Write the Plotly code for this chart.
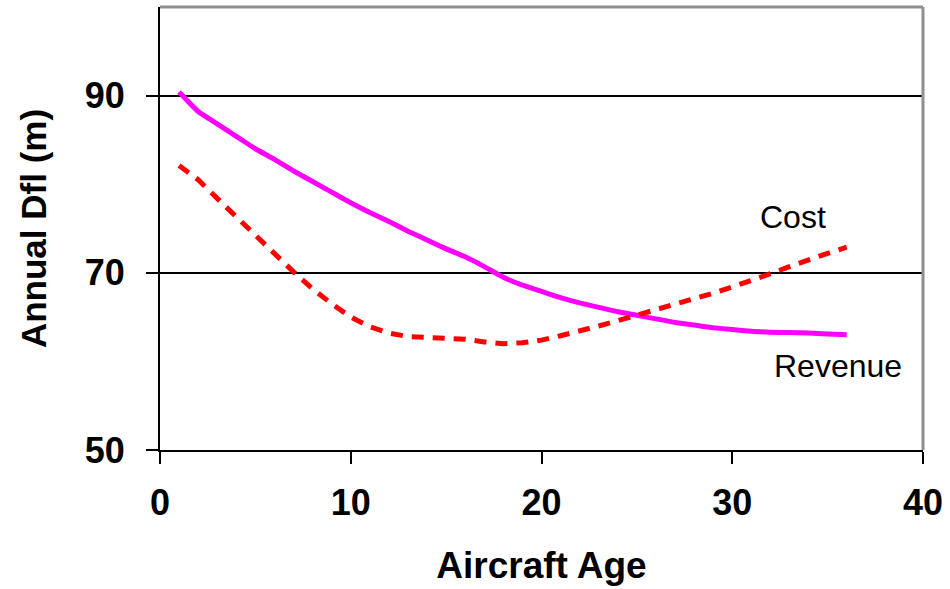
import plotly.graph_objects as go

age = list(range(1, 37))
revenue = [90.4, 88.2, 86.8, 85.4, 84.0, 82.8, 81.5, 80.3, 79.1, 77.9,
           76.8, 75.8, 74.7, 73.7, 72.7, 71.8, 70.7, 69.5, 68.6, 67.9,
           67.2, 66.6, 66.1, 65.6, 65.2, 64.8, 64.4, 64.1, 63.8, 63.6,
           63.4, 63.3, 63.25, 63.2, 63.1, 63.0]
cost = [82.1, 80.5, 78.4, 76.3, 74.2, 72.2, 70.1, 68.2, 66.5, 65.0,
        63.9, 63.2, 62.8, 62.7, 62.6, 62.5, 62.2, 62.0, 62.1, 62.4,
        62.9, 63.4, 64.0, 64.6, 65.2, 65.8, 66.4, 67.0, 67.7, 68.4,
        69.1, 69.9, 70.7, 71.5, 72.2, 72.9]
x_ticks = [0, 10, 20, 30, 40]
y_ticks = [50, 70, 90]

FONT = "Liberation Sans, Arial, sans-serif"

fig = go.Figure()
fig.add_trace(go.Scatter(x=age, y=revenue, mode="lines", name="Revenue",
                         line=dict(color="#FF00FF", width=5, shape="spline", smoothing=0.4)))
fig.add_trace(go.Scatter(x=age, y=cost, mode="lines", name="Cost",
                         line=dict(color="#FF0000", width=5, dash="12px,9px")))

fig.update_layout(
    width=950, height=589,
    margin=dict(l=160, r=23, t=7, b=139),
    paper_bgcolor="white", plot_bgcolor="white",
    showlegend=False,
    font=dict(family=FONT, color="black"),
)
fig.update_xaxes(
    range=[0, 40], tickvals=x_ticks, showgrid=False, zeroline=False,
    showline=True, linecolor="black", linewidth=2,
    ticks="outside", ticklen=12, tickwidth=2, tickcolor="black",
    tickfont=dict(size=36, family=FONT, weight="bold"),
    ticklabelstandoff=8,
    title=dict(text="<b>Aircraft Age</b>", font=dict(size=37, family=FONT), standoff=30),
)
fig.update_yaxes(
    range=[50, 100], tickvals=y_ticks, showgrid=True, gridcolor="black", gridwidth=2,
    zeroline=False,
    showline=True, linecolor="black", linewidth=2,
    ticks="outside", ticklen=12, tickwidth=2, tickcolor="black",
    tickfont=dict(size=36, family=FONT, weight="bold"),
    ticklabelstandoff=14,
    title=dict(text="<b>Annual Dfl (m)</b>", font=dict(size=35, family=FONT), standoff=28),
)
# top and right border of the plot area
fig.add_shape(type="line", xref="x domain", yref="y domain", x0=0, x1=1, y0=1, y1=1,
              line=dict(color="#909090", width=3))
fig.add_shape(type="line", xref="x domain", yref="y domain", x0=1, x1=1, y0=0, y1=1,
              line=dict(color="#909090", width=3))

fig.add_annotation(x=33.2, y=76.3, text="Cost", showarrow=False,
                   font=dict(size=32, family=FONT, color="black"))
fig.add_annotation(x=35.55, y=59.5, text="Revenue", showarrow=False,
                   font=dict(size=32, family=FONT, color="black"))

fig.write_html("out.html")
